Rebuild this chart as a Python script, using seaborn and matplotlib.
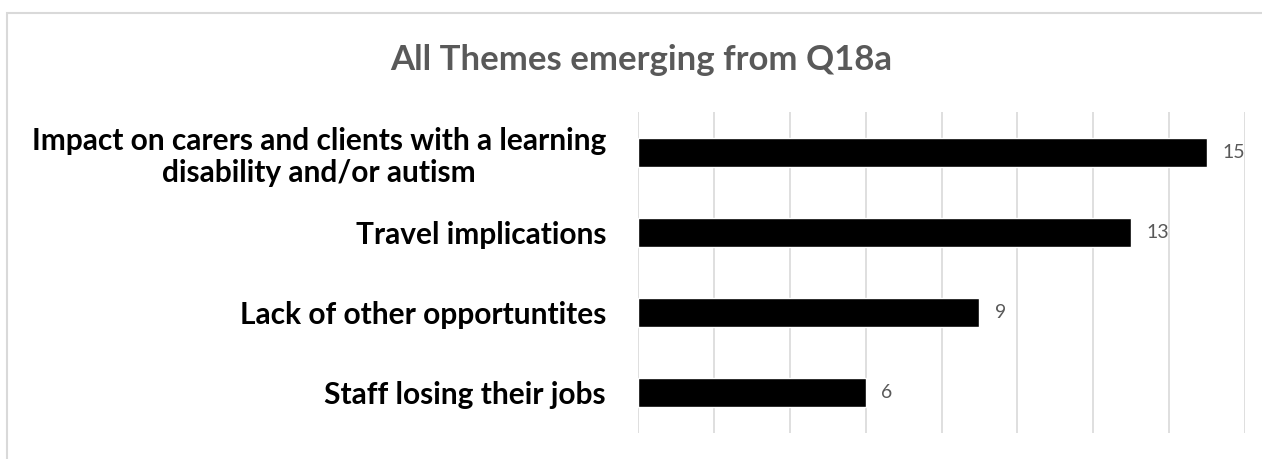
import numpy as np
import pandas as pd
import matplotlib
matplotlib.use("Agg")
import matplotlib.pyplot as plt
from matplotlib.patches import Rectangle
import seaborn as sns

# data
themes = ["Impact on carers and clients with a learning\ndisability and/or autism",
          "Travel implications",
          "Lack of other opportuntites",
          "Staff losing their jobs"]
counts = [15, 13, 9, 6]
title = "All Themes emerging from Q18a"

sns.set_style("white")
plt.rcParams['font.family'] = ['Lato', 'DejaVu Sans']

df = pd.DataFrame({"theme": themes, "count": counts})

fig = plt.figure(figsize=(12.62, 4.59), dpi=100)
ax = fig.add_axes([638/1262, 26/459, 607/1262, 321/459])

sns.barplot(data=df, x="count", y="theme", color="black", width=0.36,
            saturation=1, ax=ax, zorder=3)

ax.set_xlim(0, 16)
ax.set_ylim(3.5, -0.5)
ax.set_xticks(np.arange(0, 17, 2))
ax.xaxis.grid(True, color="#d9d9d9", linewidth=1.2, zorder=0)
ax.set_axisbelow(True)
ax.tick_params(axis="x", length=0, labelbottom=False)
ax.tick_params(axis="y", length=0, pad=23)
for lab in ax.get_yticklabels():
    lab.set_fontsize(21.5)
    lab.set_fontweight("bold")
    lab.set_color("black")
    lab.set_multialignment("center")
    lab.set_linespacing(1.2)
ax.set_xlabel("")
ax.set_ylabel("")
for s in ax.spines.values():
    s.set_visible(False)

# value labels next to bars
for p, v in zip(ax.patches, counts):
    ax.annotate(str(v), (p.get_width(), p.get_y() + p.get_height() / 2),
                xytext=(11, 0), textcoords="offset points", va="center", ha="left",
                fontsize=14, color="#595959")

fig.text(641/1262, 1 - 60/459, title, ha="center", va="center",
         fontsize=25, fontweight="bold", color="#595959")

# chart border
fig.patches.append(Rectangle((7/1262, -0.1), 1.2, 1 - 13/459 + 0.1,
                             transform=fig.transFigure, fill=False,
                             edgecolor="#d9d9d9", linewidth=1.5))

fig.savefig("out.png", dpi=100)
